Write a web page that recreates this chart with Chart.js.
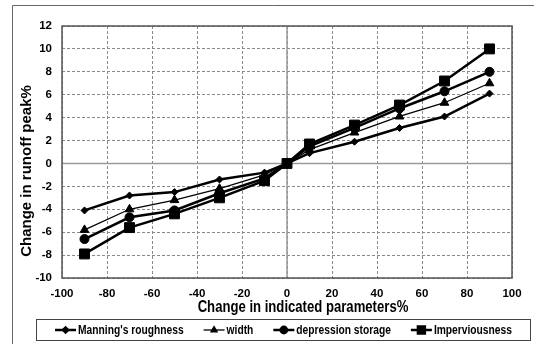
<!DOCTYPE html>
<html lang="en">
    <head>
        <meta charset="UTF-8">
        <title>Change in runoff peak</title>
        <script src="https://cdn.jsdelivr.net/npm/chart.js@4.4.1/dist/chart.umd.min.js"></script>
        <style>
            html, body {
                margin: 0;
                padding: 0;
                background: #fff;
            }
            #chartBox {
                width: 534px;
                height: 344px;
            }
        </style>
    </head>
    <body>
        <div id="chartBox">
            <canvas id="peakChart" width="534" height="344"></canvas>
        </div>
        <script>
            // x values (change in parameter, %)
            var changes = [-90, -70, -50, -30, -10, 0, 10, 30, 50, 70, 90];
            var seriesNames = ["Manning's roughness", "width", "depression storage", "Imperviousness"];
            var manning = [-4.1, -2.8, -2.5, -1.4, -0.8, 0, 0.9, 1.9, 3.1, 4.1, 6.1];
            var width = [-5.8, -4.0, -3.2, -2.2, -1.0, 0, 1.2, 2.7, 4.1, 5.3, 7.0];
            var depression = [-6.6, -4.7, -4.1, -2.6, -1.3, 0, 1.5, 3.1, 4.8, 6.3, 8.0];
            var imperv = [-7.9, -5.6, -4.4, -3.0, -1.5, 0, 1.7, 3.35, 5.1, 7.2, 10.0];
            var xTitle = "Change in indicated parameters%";
            var yTitle = "Change in runoff peak%";

            var fontFamily = "'Liberation Sans', Arial, sans-serif";
            var squeeze = 0.82; // the original uses a narrow face

            function points(values) {
                return changes.map(function (x, i) {
                    return {x: x, y: values[i]};
                });
            }

            // text squeezed horizontally to look like a narrow font
            function narrowText(ctx, text, x, y, align) {
                var w = ctx.measureText(text).width * squeeze;
                var left = align === "center" ? x - w / 2 : x;
                ctx.save();
                ctx.textAlign = "left";
                ctx.translate(left, y);
                ctx.scale(squeeze, 1);
                ctx.fillText(text, 0, 0);
                ctx.restore();
                return w;
            }

            // frame, plot border, zero lines, axis titles and legend
            var decorations = {
                id: "decorations",
                beforeDatasetsDraw: function (chart) {
                    var ctx = chart.ctx;
                    var area = chart.chartArea;
                    var x0 = chart.scales.x.getPixelForValue(0);
                    var y0 = chart.scales.y.getPixelForValue(0);
                    ctx.save();
                    ctx.strokeStyle = "#9a9a9a";
                    ctx.lineWidth = 1.5;
                    ctx.beginPath();
                    ctx.moveTo(x0, area.top);
                    ctx.lineTo(x0, area.bottom);
                    ctx.moveTo(area.left, y0);
                    ctx.lineTo(area.right, y0);
                    ctx.stroke();
                    ctx.strokeStyle = "#555";
                    ctx.lineWidth = 1.5;
                    ctx.strokeRect(area.left, area.top, area.right - area.left, area.bottom - area.top);
                    ctx.restore();
                },
                afterDraw: function (chart) {
                    var ctx = chart.ctx;
                    var area = chart.chartArea;
                    ctx.save();
                    // outer frame (left and top edges)
                    ctx.strokeStyle = "#666";
                    ctx.lineWidth = 1;
                    ctx.beginPath();
                    ctx.moveTo(12.5, chart.height);
                    ctx.lineTo(12.5, 5.5);
                    ctx.lineTo(chart.width, 5.5);
                    ctx.stroke();

                    // axis titles
                    ctx.fillStyle = "#000";
                    ctx.textBaseline = "middle";
                    ctx.font = "bold 16px " + fontFamily;
                    narrowText(ctx, xTitle, (area.left + area.right) / 2 + 16, area.bottom + 30, "center");
                    ctx.save();
                    ctx.translate(27, (area.top + area.bottom) / 2 + 19);
                    ctx.rotate(-Math.PI / 2);
                    ctx.textAlign = "center";
                    ctx.font = "bold 15px " + fontFamily;
                    ctx.fillText(yTitle, 0, 0);
                    ctx.restore();

                    // legend
                    var box = {left: 36.5, top: 319.5, right: 530.5, bottom: 340.5};
                    ctx.strokeStyle = "#444";
                    ctx.lineWidth = 1;
                    ctx.strokeRect(box.left, box.top, box.right - box.left, box.bottom - box.top);
                    ctx.font = "bold 12.5px " + fontFamily;
                    var lineLen = 21;
                    var gap = 20;
                    var total = 0;
                    chart.data.datasets.forEach(function (ds, i) {
                        total += lineLen + 2 + ctx.measureText(ds.label).width * squeeze;
                        if (i > 0) total += gap;
                    });
                    var x = (box.left + box.right) / 2 - total / 2;
                    var cy = (box.top + box.bottom) / 2;
                    chart.data.datasets.forEach(function (ds) {
                        ctx.strokeStyle = "#000";
                        ctx.lineWidth = ds.borderWidth;
                        ctx.beginPath();
                        ctx.moveTo(x, cy);
                        ctx.lineTo(x + lineLen, cy);
                        ctx.stroke();
                        ctx.fillStyle = "#000";
                        Chart.helpers.drawPoint(ctx, {
                            pointStyle: ds.pointStyle,
                            radius: ds.pointRadius * 0.7,
                            borderWidth: 1,
                            rotation: 0
                        }, x + lineLen / 2, cy);
                        ctx.fillStyle = "#000";
                        var w = narrowText(ctx, ds.label, x + lineLen + 2, cy + 1, "left");
                        x += lineLen + 2 + w + gap;
                    });
                    ctx.restore();
                }
            };

            function series(label, values, lineWidth, style, radius) {
                return {
                    label: label,
                    data: points(values),
                    borderColor: "#000",
                    backgroundColor: "#000",
                    borderWidth: lineWidth,
                    pointStyle: style,
                    pointRadius: radius,
                    pointBorderWidth: 1,
                    pointBorderColor: "#000",
                    pointBackgroundColor: "#000",
                    tension: 0,
                    fill: false
                };
            }

            var peakChart = new Chart(document.getElementById("peakChart").getContext("2d"), {
                type: "line",
                data: {
                    datasets: [
                        series(seriesNames[0], manning, 2.5, "rectRot", 3.5),
                        series(seriesNames[1], width, 1.3, "triangle", 5),
                        series(seriesNames[2], depression, 2.5, "circle", 4.5),
                        series(seriesNames[3], imperv, 2.5, "rect", 7)
                    ]
                },
                options: {
                    responsive: false,
                    animation: false,
                    layout: {
                        padding: {left: 12, top: 26, right: 22, bottom: 36}
                    },
                    plugins: {
                        legend: {display: false},
                        tooltip: {enabled: false}
                    },
                    scales: {
                        x: {
                            type: "linear",
                            min: -100,
                            max: 100,
                            afterFit: function (scale) {
                                scale.height = 30;
                            },
                            ticks: {
                                stepSize: 20,
                                padding: 9,
                                color: "#000",
                                maxRotation: 0,
                                font: {family: fontFamily, size: 11.5, weight: "bold"}
                            },
                            grid: {color: "#8a8a8a", lineWidth: 1, drawTicks: false},
                            border: {display: false, dash: [3, 2]}
                        },
                        y: {
                            min: -10,
                            max: 12,
                            afterFit: function (scale) {
                                scale.width = 50;
                            },
                            ticks: {
                                stepSize: 2,
                                padding: 10,
                                color: "#000",
                                font: {family: fontFamily, size: 11.5, weight: "bold"}
                            },
                            grid: {color: "#8a8a8a", lineWidth: 1, drawTicks: false},
                            border: {display: false, dash: [3, 2]}
                        }
                    }
                },
                plugins: [decorations]
            });
        </script>
    </body>
</html>
